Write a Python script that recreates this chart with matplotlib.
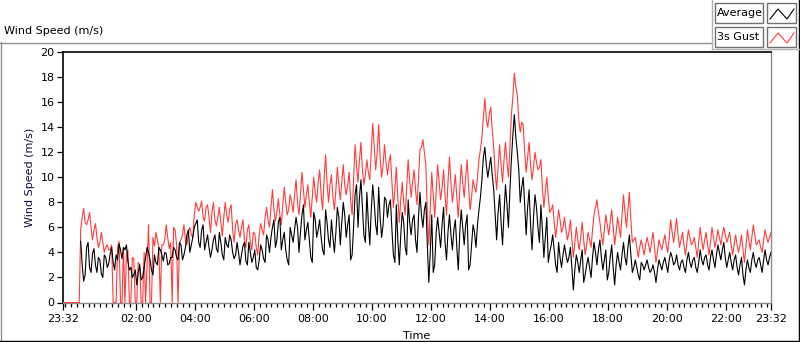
import numpy as np
import matplotlib.pyplot as plt
from matplotlib.lines import Line2D
from matplotlib.patches import Rectangle

# hours after 23:32; samples every 6 minutes plus the in-between 3-minute readings
nan = np.nan
average = [
    nan, nan, nan, nan, nan, nan, 4.9, 1.7, 4.4, 2.8,
    3.9, 3.0, 3.6, 2.3, 3.8, 2.8, 3.9, 3.2, 3.8, 4.7,
    3.5, 4.2, 3.3, 2.8, 2.2, 1.4, 3.0, 2.0, 3.6, 4.0,
    2.6, 3.8, 3.0, 4.2, 3.3, 3.9, 3.1, 3.6, 4.2, 3.4,
    4.6, 3.8, 5.4, 4.0, 5.2, 6.3, 4.8, 5.8, 4.2, 5.4,
    3.6, 5.0, 4.3, 5.6, 3.8, 5.2, 4.4, 5.0, 3.5, 4.8,
    3.0, 4.5, 3.3, 4.8, 3.2, 4.2, 2.6, 4.6, 3.5, 5.4,
    4.0, 6.0, 4.4, 6.4, 4.2, 5.6, 3.4, 6.0, 4.8, 6.8,
    4.0, 7.0, 5.0, 6.4, 3.6, 7.2, 5.2, 6.6, 4.2, 7.4,
    5.0, 6.6, 4.0, 7.6, 4.6, 8.0, 5.2, 7.0, 3.8, 8.6,
    6.0, 9.8, 5.4, 8.8, 4.6, 9.4, 6.2, 9.2, 5.2, 8.4,
    6.8, 8.2, 3.8, 7.8, 3.0, 7.2, 4.4, 8.2, 5.4, 7.0,
    4.0, 8.8, 6.0, 8.0, 1.6, 7.0, 3.0, 6.8, 4.4, 7.6,
    3.4, 7.0, 4.2, 6.6, 2.6, 7.4, 4.6, 7.0, 3.0, 6.2,
    4.4, 7.4, 9.8, 12.4, 10.0, 11.6, 9.0, 5.0, 8.6, 4.6,
    9.4, 6.0, 11.4, 15.0, 12.0, 8.0, 10.0, 5.4, 9.0, 4.2,
    8.6, 6.0, 7.8, 3.6, 6.8, 4.0, 5.4, 3.0, 4.8, 2.8,
    4.6, 3.2, 4.4, 1.0, 3.8, 2.4, 4.2, 2.2, 3.6, 2.0,
    4.8, 3.0, 5.0, 2.6, 4.2, 2.4, 4.6, 1.4, 4.0, 2.6,
    4.8, 3.0, 5.4, 2.4, 3.4, 2.2, 3.2, 2.6, 3.4, 2.4,
    3.0, 1.6, 3.4, 2.6, 3.6, 2.4, 4.0, 3.0, 3.8, 2.6,
    3.4, 2.4, 4.0, 2.8, 3.6, 2.4, 4.2, 3.0, 3.8, 2.6,
    4.2, 2.8, 4.6, 3.4, 4.8, 2.8, 4.0, 2.6, 3.8, 2.2,
    3.6, 1.4, 3.4, 2.4, 4.0, 2.8, 3.6, 2.4, 4.2, 3.0,
    4.0,
]
average_mid = [
    nan, nan, nan, nan, nan, nan, 3.0, 2.2, 4.8, 2.4,
    4.3, 2.4, 3.4, 2.0, 3.6, 3.1, 4.4, 2.6, 3.4, 4.2,
    4.4, 4.6, 2.6, 2.0, 2.6, 2.4, 1.8, 2.8, 4.4, 3.4,
    2.2, 3.2, 4.4, 3.8, 4.0, 3.0, 3.6, 4.4, 3.6, 4.8,
    3.4, 4.4, 5.8, 4.6, 6.0, 6.6, 4.4, 6.2, 4.8, 4.4,
    4.2, 5.4, 4.0, 4.8, 3.4, 4.6, 5.4, 4.0, 3.8, 4.0,
    3.8, 4.8, 3.0, 4.0, 3.6, 2.8, 3.4, 4.2, 3.2, 5.0,
    5.2, 6.6, 5.0, 6.8, 5.0, 4.2, 3.0, 5.4, 5.8, 6.0,
    5.6, 7.8, 5.8, 5.0, 3.2, 6.6, 5.8, 5.2, 3.8, 6.4,
    4.4, 5.2, 5.6, 6.8, 6.4, 7.0, 6.2, 3.4, 6.0, 9.4,
    8.4, 7.6, 4.8, 6.4, 7.4, 8.0, 5.4, 6.8, 6.2, 8.2,
    7.8, 5.8, 3.2, 5.0, 5.4, 6.4, 3.8, 6.4, 6.6, 5.0,
    6.8, 7.0, 7.4, 4.6, 4.0, 2.4, 5.6, 5.6, 6.2, 4.8,
    5.6, 5.4, 5.8, 4.4, 5.6, 6.0, 6.2, 2.6, 4.6, 5.6,
    6.2, 8.4, 11.6, 11.0, 10.8, 10.2, 7.0, 7.2, 6.4, 7.2,
    7.8, 9.0, 13.4, 13.2, 10.6, 9.2, 7.8, 7.6, 6.2, 6.8,
    7.6, 4.8, 5.8, 5.2, 3.2, 4.6, 4.2, 2.4, 3.6, 3.8,
    3.8, 3.6, 2.8, 2.6, 3.2, 3.4, 1.6, 3.0, 2.8, 3.6,
    4.0, 4.2, 3.6, 3.4, 1.8, 3.6, 2.8, 3.0, 3.2, 3.8,
    3.6, 4.4, 3.8, 2.8, 2.8, 1.8, 3.0, 3.0, 2.8, 2.6,
    2.4, 2.6, 3.0, 3.2, 3.0, 3.4, 3.6, 3.2, 3.0, 3.2,
    2.8, 3.4, 3.2, 3.4, 2.8, 3.2, 3.4, 3.6, 3.0, 3.6,
    3.4, 3.8, 4.0, 4.2, 3.6, 3.4, 3.2, 3.4, 2.8, 3.0,
    2.2, 2.6, 2.8, 3.4, 3.2, 3.4, 3.0, 3.4, 3.4, 3.6,
]
gust = [
    0, 0, 0, 0, 0, 0, 5.8, 7.5, 6.2, 7.2,
    5.0, 6.3, 4.4, 5.6, 4.0, 4.6, 4.2, 0, 0, 4.9,
    0, 0, 4.2, 0, 3.5, 0, 3.0, 0, 0, 6.2,
    0, 4.5, 5.0, 0, 4.6, 6.2, 4.3, 0, 5.8, 0,
    5.0, 6.2, 4.6, 6.0, 5.2, 8.0, 7.3, 8.1, 6.5, 7.8,
    5.6, 8.0, 6.1, 7.6, 5.3, 8.0, 6.4, 7.8, 4.8, 6.6,
    5.2, 6.6, 4.4, 6.2, 4.2, 5.5, 3.8, 6.3, 5.4, 7.6,
    6.0, 9.0, 6.5, 8.3, 6.2, 9.2, 7.0, 8.6, 7.2, 9.8,
    7.0, 10.4, 7.6, 9.4, 6.8, 10.0, 8.0, 10.6, 7.4, 11.8,
    8.0, 10.2, 7.4, 10.8, 8.2, 11.0, 8.6, 10.4, 7.0, 12.6,
    9.6, 12.8, 9.4, 11.4, 9.8, 14.3, 10.6, 14.2, 10.0, 12.6,
    10.2, 11.8, 7.6, 10.8, 6.4, 9.6, 7.0, 11.4, 8.4, 10.6,
    7.8, 12.2, 13.0, 11.0, 4.6, 10.4, 6.8, 11.0, 8.2, 10.6,
    7.0, 11.6, 8.0, 10.2, 6.8, 11.0, 8.4, 11.4, 7.4, 9.8,
    8.8, 11.4, 13.2, 16.3, 14.0, 15.6, 12.4, 9.0, 12.6, 9.6,
    12.8, 10.0, 15.0, 18.3, 16.6, 13.6, 14.2, 10.4, 12.8, 9.8,
    12.0, 10.6, 11.4, 7.6, 10.0, 7.2, 7.8, 5.2, 7.4, 5.6,
    6.8, 5.0, 6.6, 3.6, 6.0, 4.2, 6.4, 3.8, 5.6, 4.4,
    7.0, 8.2, 6.4, 4.6, 7.0, 5.4, 7.4, 4.6, 6.8, 5.2,
    8.6, 6.0, 8.8, 4.8, 5.2, 3.6, 5.0, 3.8, 5.2, 4.0,
    5.6, 3.2, 5.0, 4.2, 5.4, 4.0, 6.6, 4.8, 6.7, 4.4,
    5.6, 3.8, 5.8, 4.6, 5.2, 3.6, 6.0, 4.2, 5.6, 3.8,
    6.0, 4.4, 5.8, 4.6, 6.0, 4.8, 5.6, 3.8, 5.4, 4.0,
    5.4, 3.2, 5.8, 4.2, 6.2, 4.6, 5.0, 4.0, 5.8, 4.8,
    5.6,
]
gust_mid = [
    0, 0, 0, 0, 0, 0, 6.8, 6.4, 6.6, 6.0,
    5.8, 5.2, 4.8, 4.8, 4.4, 4.2, 4.6, 0, 4.4, 0,
    4.4, 3.8, 0, 3.6, 0, 3.2, 0, 4.0, 3.2, 0,
    5.2, 5.6, 4.4, 4.6, 5.0, 5.2, 4.8, 6.0, 4.6, 4.8,
    5.4, 5.0, 5.6, 5.4, 7.0, 7.6, 7.6, 6.8, 7.6, 6.8,
    7.2, 6.6, 6.8, 6.4, 6.8, 7.0, 7.4, 5.8, 6.2, 5.8,
    6.0, 5.0, 5.8, 4.8, 5.6, 4.4, 5.4, 5.8, 6.8, 6.6,
    7.6, 7.4, 7.2, 7.0, 7.8, 8.0, 7.4, 8.0, 8.6, 8.0,
    8.6, 9.0, 8.6, 8.0, 8.4, 8.8, 9.6, 8.6, 9.8, 9.6,
    9.4, 8.4, 9.0, 9.4, 9.6, 9.4, 9.4, 8.2, 9.8, 11.0,
    11.4, 10.6, 10.2, 10.4, 12.0, 12.4, 12.0, 11.6, 11.0, 11.2,
    11.2, 9.6, 9.0, 8.4, 8.2, 8.0, 9.2, 9.8, 9.6, 9.0,
    9.8, 12.4, 12.0, 7.2, 7.6, 8.6, 8.8, 9.6, 9.2, 8.6,
    9.6, 9.6, 9.0, 8.4, 9.0, 9.6, 10.0, 9.2, 8.4, 9.2,
    10.0, 12.2, 14.8, 14.6, 15.0, 13.8, 10.4, 10.8, 11.0, 11.4,
    11.2, 12.4, 16.4, 17.2, 14.6, 14.4, 12.0, 11.6, 11.0, 10.8,
    11.2, 10.8, 9.2, 8.8, 8.4, 7.4, 6.4, 6.2, 6.6, 6.0,
    5.8, 5.6, 5.0, 4.8, 5.0, 5.2, 5.0, 4.6, 5.0, 5.8,
    7.6, 7.2, 5.4, 5.8, 6.2, 6.4, 6.0, 5.6, 6.0, 7.0,
    7.2, 7.4, 6.6, 5.0, 4.4, 4.4, 4.4, 4.6, 4.6, 4.8,
    4.4, 4.0, 4.6, 4.8, 4.6, 5.2, 5.6, 5.8, 5.4, 5.0,
    4.6, 4.8, 5.2, 4.8, 4.4, 4.8, 5.0, 5.0, 4.6, 4.8,
    5.2, 5.0, 5.2, 5.4, 5.4, 5.2, 4.6, 4.6, 4.6, 4.6,
    4.2, 4.4, 5.0, 5.2, 5.4, 4.8, 4.4, 5.0, 5.2, 5.2,
]

tick_labels = ["23:32", "02:00", "04:00", "06:00", "08:00", "10:00", "12:00",
               "14:00", "16:00", "18:00", "20:00", "22:00", "23:32"]
offset = 28 / 60  # 23:32 -> 00:00
tick_hours = [0] + [offset + 2 + 2 * i for i in range(11)] + [24]
minor_hours = [offset + 0.2 * k for k in range(-2, 118) if 0 < offset + 0.2 * k < 24]

# merge the 6-minute samples with the readings in between
hours = np.arange(481) / 20
avg_all = np.empty(481)
avg_all[0::2] = average
avg_all[1::2] = average_mid
gust_all = np.empty(481)
gust_all[0::2] = gust
gust_all[1::2] = gust_mid

W, H = 800, 342
fig = plt.figure(figsize=(W / 100, H / 100), dpi=100)
plt.rcParams['font.family'] = ['DejaVu Sans']


def fx(x):
    return x / W


def fy(y):
    return 1 - y / H


ax = fig.add_axes([fx(63), fy(302.5), (771 - 63) / W, (302.5 - 52) / H])
ax.plot(hours, gust_all, color='#ff3c3c', lw=0.8, zorder=3)
ax.plot(hours, avg_all, color='black', lw=0.8, zorder=4)
ax.set_xlim(0, 24)
ax.set_ylim(0, 20)
ax.set_yticks(range(0, 21, 2))
ax.set_xticks(tick_hours)
ax.set_xticklabels(tick_labels)
ax.set_xticks(minor_hours, minor=True)
ax.tick_params(axis='x', which='major', length=5, width=0.9, labelsize=8, pad=3)
ax.tick_params(axis='x', which='minor', length=3, width=0.9)
ax.tick_params(axis='y', length=4, width=0.9, labelsize=8, pad=2)
for side in ['left', 'top']:
    ax.spines[side].set_color('black')
    ax.spines[side].set_linewidth(1.2)
for side in ['right', 'bottom']:
    ax.spines[side].set_color('#8a8a8a')
    ax.spines[side].set_linewidth(1.0)
ax.set_ylabel("Wind Speed (m/s)", fontsize=8, labelpad=4, color='#101040')
ax.set_xlabel("Time", fontsize=8, labelpad=5)

# outer panel frame
fig.add_artist(Line2D([fx(0.5), fx(0.5)], [fy(42), fy(341)], color='#909090', lw=1))
fig.add_artist(Line2D([fx(0), fx(711)], [fy(42.5), fy(42.5)], color='#909090', lw=1))
fig.add_artist(Line2D([fx(0), fx(800)], [fy(341), fy(341)], color='black', lw=1))
fig.add_artist(Line2D([fx(799), fx(799)], [fy(0), fy(341)], color='black', lw=1))
fig.add_artist(Line2D([fx(711.5), fx(711.5)], [fy(0), fy(49)], color='#b0b0b0', lw=1))
fig.add_artist(Line2D([fx(711.5), fx(799)], [fy(49), fy(49)], color='#b0b0b0', lw=1))
fig.text(fx(4), fy(31), "Wind Speed (m/s)", fontsize=8, va='center', ha='left')

# legend
legend_rows = [("Average", 'black', 3), ("3s Gust", '#ff3c3c', 27)]
for name, color, top in legend_rows:
    fig.add_artist(Rectangle((fx(715), fy(top + 20)), 48 / W, 20 / H, transform=fig.transFigure,
                             facecolor='white', edgecolor='#707070', lw=1))
    fig.text(fx(717), fy(top + 10), name, fontsize=8, va='center', ha='left')
    fig.add_artist(Rectangle((fx(767), fy(top + 20)), 29 / W, 20 / H, transform=fig.transFigure,
                             facecolor='white', edgecolor='#707070', lw=1))
    fig.add_artist(Line2D([fx(770), fx(778), fx(787), fx(794)],
                          [fy(top + 16), fy(top + 6), fy(top + 16), fy(top + 6)],
                          color=color, lw=0.8))

fig.savefig("out.png", dpi=100)
